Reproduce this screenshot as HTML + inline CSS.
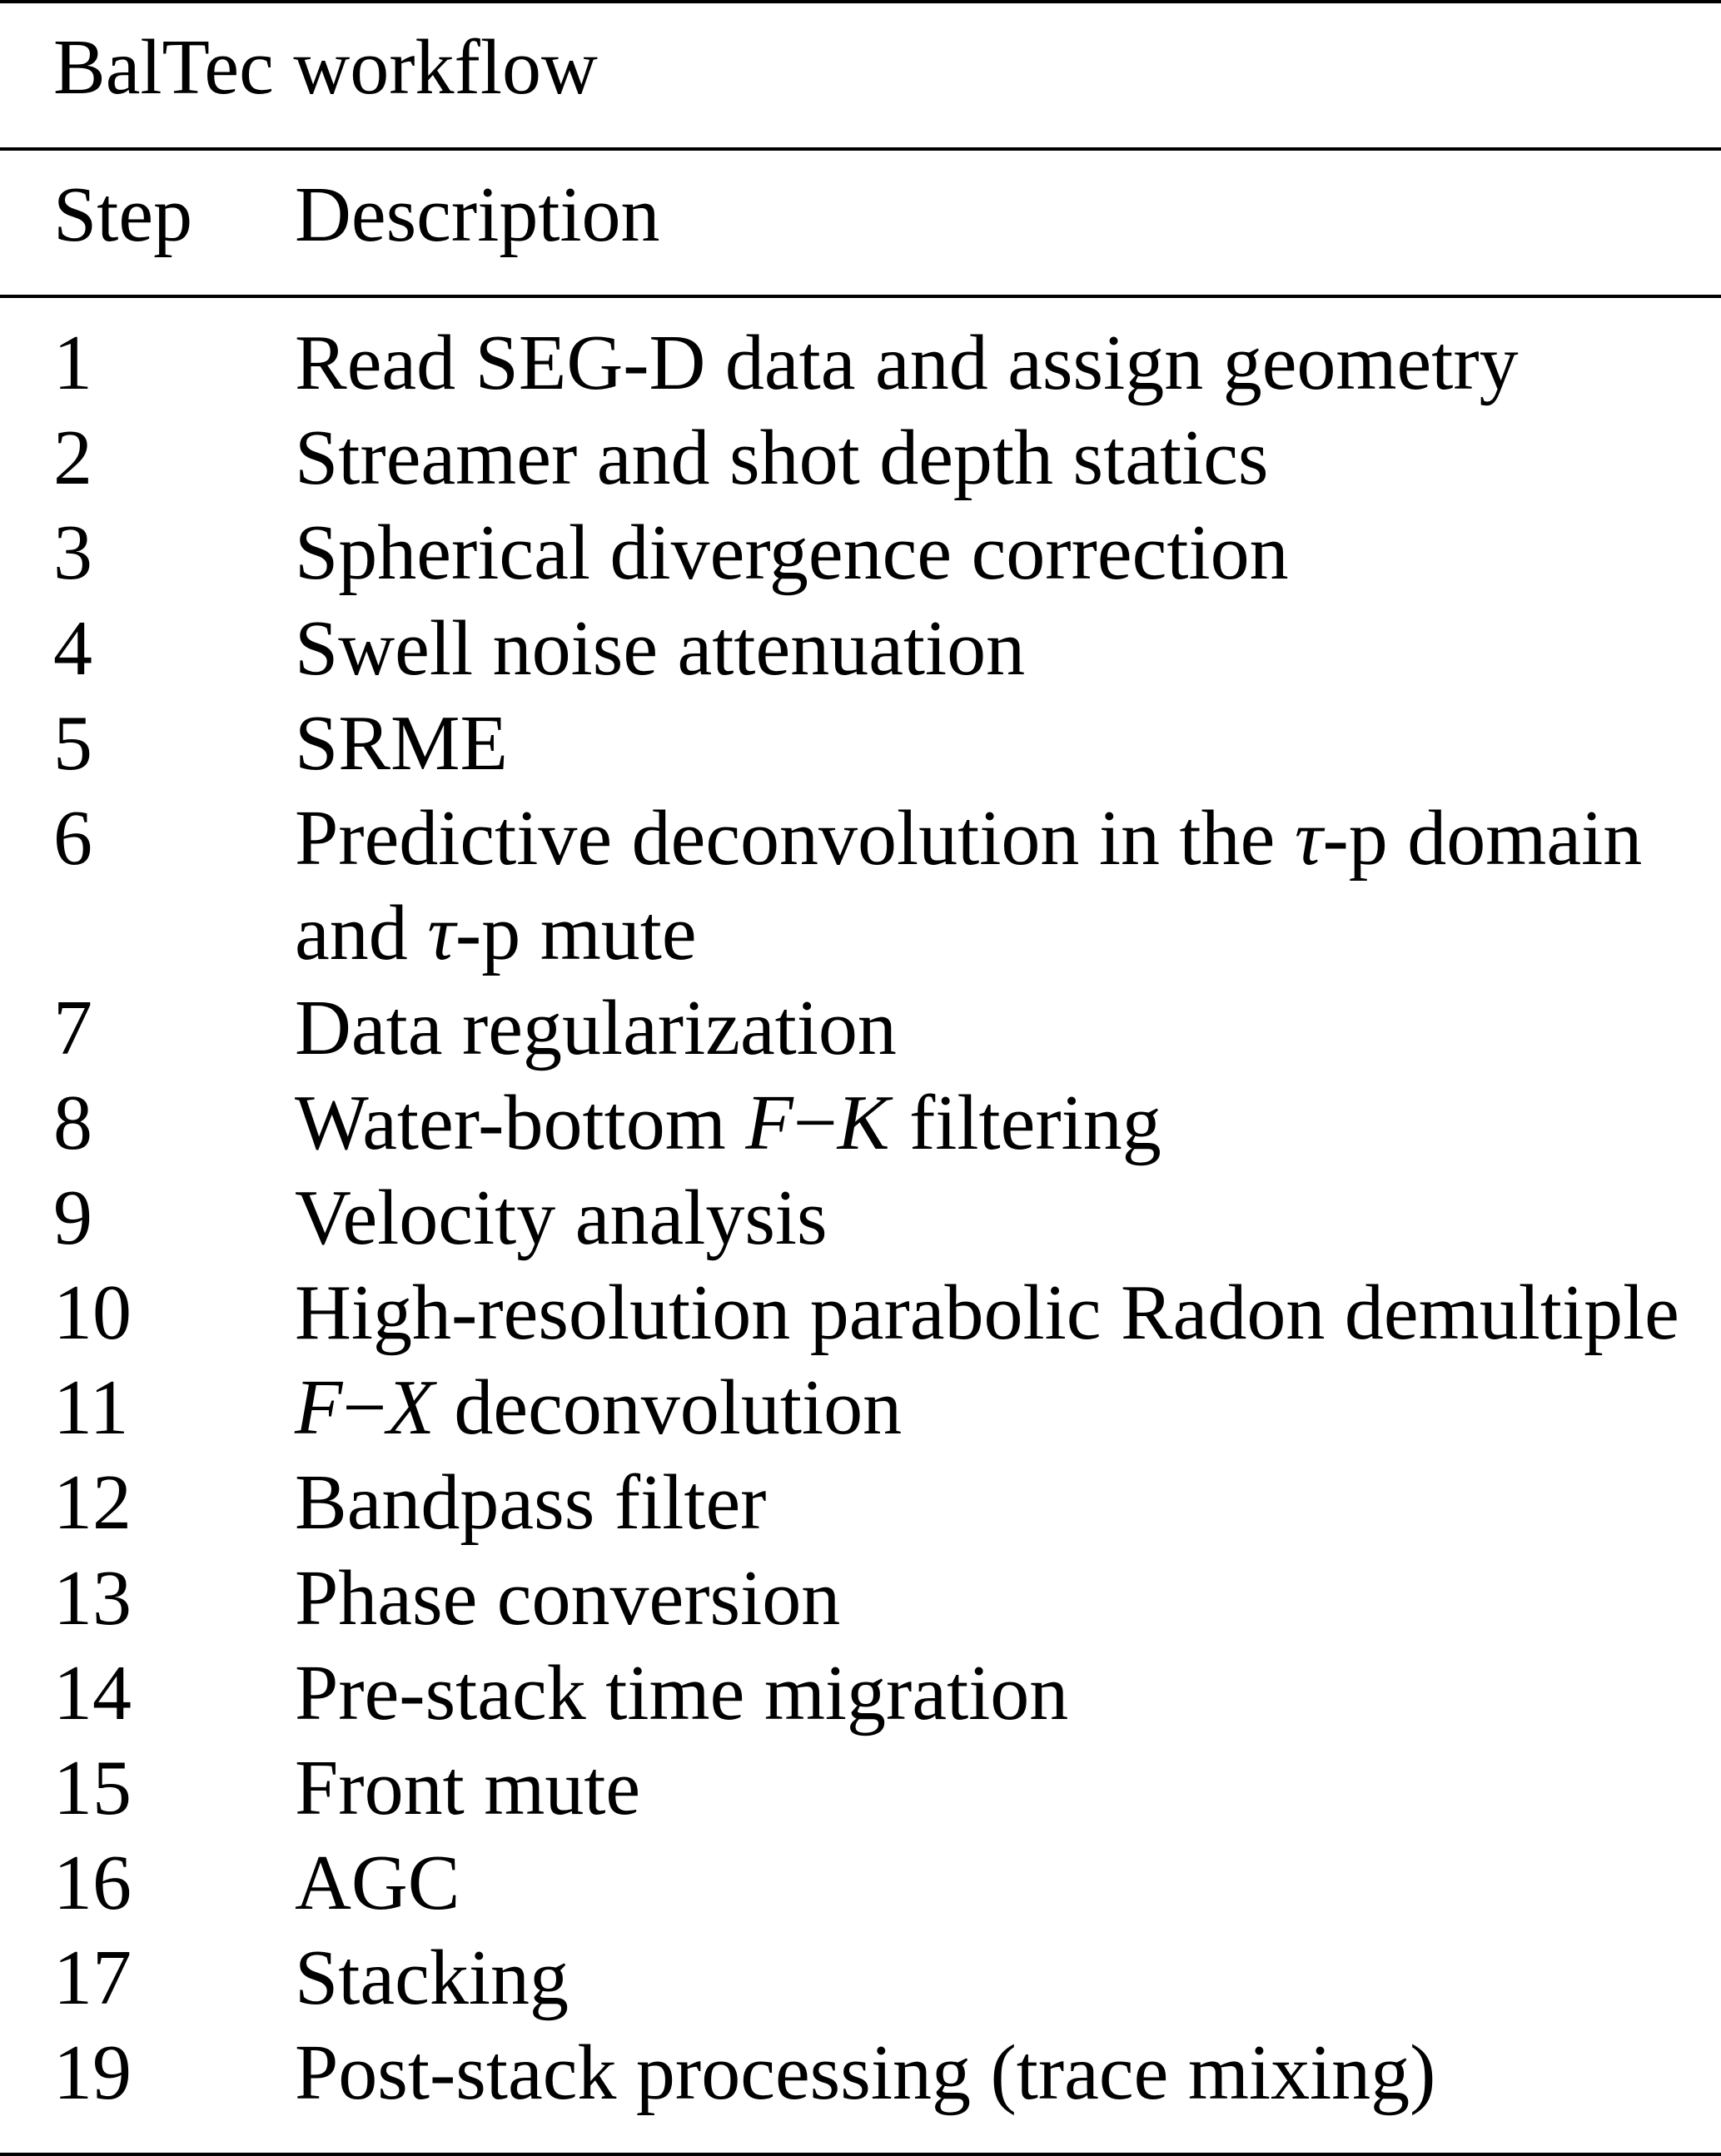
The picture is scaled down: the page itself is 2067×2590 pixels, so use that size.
<!DOCTYPE html>
<html><head><meta charset="utf-8"><style>
html,body{margin:0;padding:0;background:#fff;}
body{width:2067px;height:2590px;position:relative;overflow:hidden;font-family:"Liberation Serif","Times New Roman",serif;color:#000;}
.r{position:absolute;left:0;width:2067px;background:#000;}
.t{position:absolute;font-size:94px;line-height:94px;white-space:nowrap;}
.a{left:64px}.b{left:354px}
i{font-style:italic;}
</style></head><body>
<div class="r" style="top:0;height:4px"></div>
<div class="r" style="top:177px;height:4px"></div>
<div class="r" style="top:354px;height:4px"></div>
<div class="r" style="top:2586px;height:4px"></div>
<div class="t a" style="top:34px">BalTec workflow</div>
<div class="t a" style="top:211px">Step</div>
<div class="t b" style="top:211px">Description</div>

<div class="t a" style="top:389px">1</div><div class="t b" style="top:389px">Read SEG-D data and assign geometry</div>
<div class="t a" style="top:503px">2</div><div class="t b" style="top:503px">Streamer and shot depth statics</div>
<div class="t a" style="top:617px">3</div><div class="t b" style="top:617px">Spherical divergence correction</div>
<div class="t a" style="top:732px">4</div><div class="t b" style="top:732px">Swell noise attenuation</div>
<div class="t a" style="top:846px">5</div><div class="t b" style="top:846px">SRME</div>
<div class="t a" style="top:960px">6</div><div class="t b" style="top:960px">Predictive deconvolution in the <i>τ</i>-p domain</div>
<div class="t b" style="top:1074px">and <i>τ</i>-p mute</div>
<div class="t a" style="top:1188px">7</div><div class="t b" style="top:1188px">Data regularization</div>
<div class="t a" style="top:1302px">8</div><div class="t b" style="top:1302px">Water-bottom <i>F</i>−<i>K</i> filtering</div>
<div class="t a" style="top:1416px">9</div><div class="t b" style="top:1416px">Velocity analysis</div>
<div class="t a" style="top:1530px">10</div><div class="t b" style="top:1530px">High-resolution parabolic Radon demultiple</div>
<div class="t a" style="top:1644px">11</div><div class="t b" style="top:1644px"><i>F</i>−<i>X</i> deconvolution</div>
<div class="t a" style="top:1758px">12</div><div class="t b" style="top:1758px">Bandpass filter</div>
<div class="t a" style="top:1873px">13</div><div class="t b" style="top:1873px">Phase conversion</div>
<div class="t a" style="top:1987px">14</div><div class="t b" style="top:1987px">Pre-stack time migration</div>
<div class="t a" style="top:2101px">15</div><div class="t b" style="top:2101px">Front mute</div>
<div class="t a" style="top:2215px">16</div><div class="t b" style="top:2215px">AGC</div>
<div class="t a" style="top:2329px">17</div><div class="t b" style="top:2329px">Stacking</div>
<div class="t a" style="top:2443px">19</div><div class="t b" style="top:2443px">Post-stack processing (trace mixing)</div>
</body></html>
